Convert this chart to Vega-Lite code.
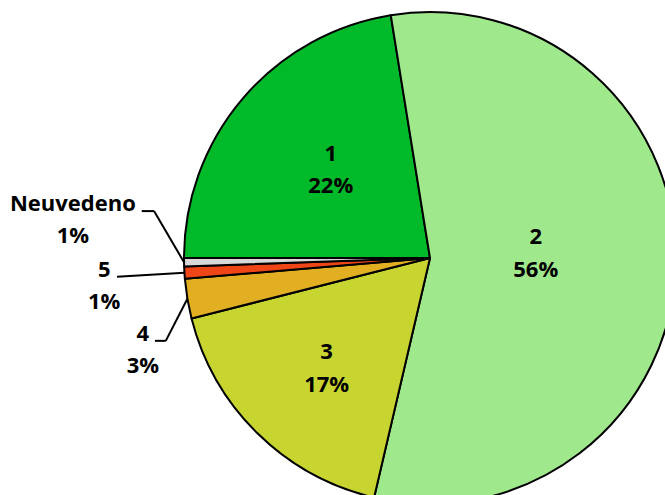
{
  "$schema": "https://vega.github.io/schema/vega-lite/v6.json",
  "width": 665,
  "height": 495,
  "autosize": {"type": "none"},
  "padding": 0,
  "background": "white",
  "view": {"stroke": null},
  "config": {"text": {"font": "Open Sans", "fontWeight": "bold", "fontSize": 22, "color": "black"}},
  "data": {"values": [
    {"cat": "1", "value": 22.45, "order": 1},
    {"cat": "2", "value": 56.2, "order": 2},
    {"cat": "3", "value": 17.4, "order": 3},
    {"cat": "4", "value": 2.6, "order": 4},
    {"cat": "5", "value": 0.8, "order": 5},
    {"cat": "Neuvedeno", "value": 0.55, "order": 6}
  ]},
  "transform": [
    {"window": [{"op": "sum", "field": "value", "as": "cum"}], "sort": [{"field": "order"}], "frame": [null, 0]},
    {"joinaggregate": [{"op": "sum", "field": "value", "as": "total"}]},
    {"calculate": "-PI/2 + 2*PI*(datum.cum - datum.value/2)/datum.total", "as": "mid"},
    {"calculate": "sin(datum.mid)", "as": "ex"},
    {"calculate": "cos(datum.mid)", "as": "ey"},
    {"calculate": "datum.cat + '\\n' + format(datum.value/100, '.0%')", "as": "label"}
  ],
  "layer": [
    {
      "mark": {"type": "arc", "outerRadius": 246, "stroke": "black", "strokeWidth": 2, "strokeJoin": "round"},
      "encoding": {
        "x": {"datum": 0, "type": "quantitative", "scale": {"domain": [-1.748, 0.9553], "nice": false, "zero": false}, "axis": null},
        "y": {"datum": 0, "type": "quantitative", "scale": {"domain": [-0.9634, 1.0488], "nice": false, "zero": false}, "axis": null},
        "theta": {"field": "value", "type": "quantitative", "stack": true, "scale": {"range": [-1.5707963, 4.7123890]}},
        "order": {"field": "order", "type": "quantitative"},
        "color": {"field": "cat", "type": "nominal", "legend": null, "scale": {
          "domain": ["1", "2", "3", "4", "5", "Neuvedeno"],
          "range": ["#00BA2A", "#A0E88C", "#C8D42F", "#E2AE22", "#EE4616", "#D9D9D9"]}}
      }
    },
    {
      "transform": [
        {"filter": "indexof(['1','2','3'], datum.cat) >= 0"},
        {"calculate": "datum.cat == '2' ? 0.43 : datum.cat == '3' ? 0.6 : 0.53", "as": "r"},
        {"calculate": "datum.r * datum.ex", "as": "lx"},
        {"calculate": "datum.r * datum.ey + (datum.cat == '2' ? 0.1 : datum.cat == '3' ? 0.045 : 0.08)", "as": "ly"}
      ],
      "mark": {"type": "text", "align": "center", "baseline": "middle", "lineBreak": "\n", "lineHeight": 32.6},
      "encoding": {
        "x": {"field": "lx", "type": "quantitative", "axis": null},
        "y": {"field": "ly", "type": "quantitative", "axis": null},
        "text": {"field": "label"}
      }
    },
    {
      "transform": [
        {"filter": "indexof(['4','5','Neuvedeno'], datum.cat) >= 0"},
        {"calculate": "datum.ex + (datum.cat == 'Neuvedeno' ? -0.452 : datum.cat == '5' ? -0.326 : -0.181)", "as": "lx"},
        {"calculate": "datum.ey + (datum.cat == 'Neuvedeno' ? 0.209 : datum.cat == '5' ? -0.016 : -0.171)", "as": "ly"}
      ],
      "mark": {"type": "text", "align": "center", "baseline": "alphabetic", "lineBreak": "\n", "lineHeight": 32.6},
      "encoding": {
        "x": {"field": "lx", "type": "quantitative", "axis": null},
        "y": {"field": "ly", "type": "quantitative", "axis": null},
        "text": {"field": "label"}
      }
    },
    {
      "transform": [
        {"filter": "indexof(['4','5','Neuvedeno'], datum.cat) >= 0"},
        {"calculate": "datum.ex + (datum.cat == 'Neuvedeno' ? -0.122 : datum.cat == '5' ? -0.274 : -0.088)", "as": "p1x"},
        {"calculate": "datum.ey + (datum.cat == 'Neuvedeno' ? 0.208 : datum.cat == '5' ? -0.017 : -0.171)", "as": "p1y"},
        {"calculate": "datum.p1x + (datum.cat == 'Neuvedeno' ? -0.05 : datum.cat == '5' ? 0 : -0.044)", "as": "p0x"}
      ],
      "layer": [
        {
          "mark": {"type": "rule", "color": "black", "strokeWidth": 2},
          "encoding": {
            "x": {"field": "p0x", "type": "quantitative", "axis": null},
            "y": {"field": "p1y", "type": "quantitative", "axis": null},
            "x2": {"field": "p1x"},
            "y2": {"field": "p1y"}
          }
        },
        {
          "mark": {"type": "rule", "color": "black", "strokeWidth": 2},
          "encoding": {
            "x": {"field": "p1x", "type": "quantitative", "axis": null},
            "y": {"field": "p1y", "type": "quantitative", "axis": null},
            "x2": {"field": "ex"},
            "y2": {"field": "ey"}
          }
        }
      ]
    }
  ]
}
